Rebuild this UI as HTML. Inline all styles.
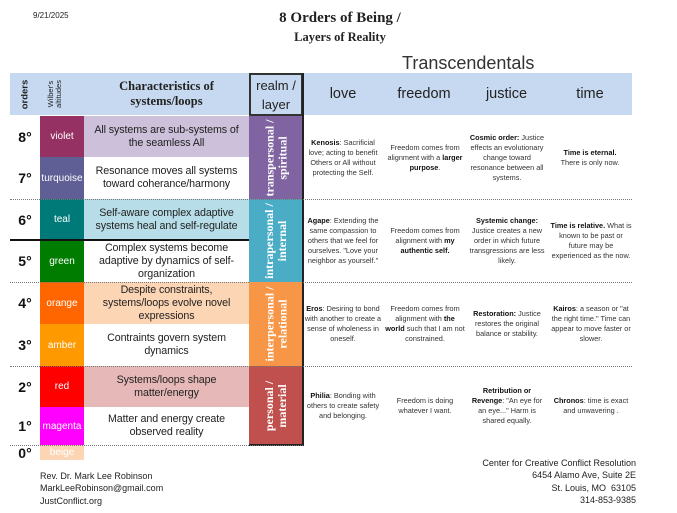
<!DOCTYPE html>
<html><head><meta charset="utf-8"><style>
*{margin:0;padding:0;box-sizing:border-box}
body{width:677px;height:513px;background:#fff;position:relative;overflow:hidden;font-family:"Liberation Sans",Arial,sans-serif;color:#222}
.a{position:absolute}
.c{display:flex;align-items:center;justify-content:center;text-align:center}
.deg{font-weight:bold;font-size:14px;color:#111;left:10px;width:30px}
.w{left:40px;width:44px;color:#fff;font-size:10px}
.ch{left:84px;width:165px;font-size:10.7px;line-height:13px;padding:0 3px;letter-spacing:-0.1px}
.rl{left:249px;width:54px;color:#fff;font-family:"Liberation Serif",serif;font-weight:bold;font-size:12px;line-height:13px}
.rl span{transform:rotate(-90deg);white-space:nowrap;display:block}
.t{font-size:7.3px;line-height:10px;color:#333}
.t b{color:#111}
.dot{left:10px;width:622px;height:0;border-top:1px dotted #777}
</style></head><body>
<div class="a" style="left:33px;top:11px;font-size:8px">9/21/2025</div>
<div class="a" style="left:200px;width:280px;top:10px;text-align:center;font-family:'Liberation Serif',serif;font-weight:bold;font-size:15px">8 Orders of Being /</div>
<div class="a" style="left:200px;width:280px;top:30px;text-align:center;font-family:'Liberation Serif',serif;font-weight:bold;font-size:12.5px">Layers of Reality</div>
<div class="a" style="left:402px;top:53px;font-size:18px;color:#333">Transcendentals</div>

<div class="a" style="left:10px;top:73px;width:622px;height:42px;background:#c6d9f0"></div>
<div class="a c" style="left:10px;top:73px;width:30px;height:42px"><span style="transform:rotate(-90deg);font-weight:bold;font-size:9.5px;display:block">orders</span></div>
<div class="a c" style="top:73px;width:22px;height:42px;left:44px"><span style="transform:rotate(-90deg);font-size:7.5px;line-height:8px;display:block;white-space:nowrap">Wilber's<br>altitudes</span></div>
<div class="a c" style="left:84px;top:73px;width:165px;height:42px;font-family:'Liberation Serif',serif;font-weight:bold;font-size:12.5px;line-height:15px">Characteristics of<br>systems/loops</div>
<div class="a c" style="left:249px;top:73px;width:54px;height:43px;border:2px solid #333;font-size:13px;line-height:19px">realm /<br>layer</div>
<div class="a c" style="left:303px;top:73px;width:80px;height:42px;font-size:14.5px">love</div>
<div class="a c" style="left:383px;top:73px;width:82px;height:42px;font-size:14.5px">freedom</div>
<div class="a c" style="left:465px;top:73px;width:83px;height:42px;font-size:14.5px">justice</div>
<div class="a c" style="left:548px;top:73px;width:84px;height:42px;font-size:14.5px">time</div>

<div class="a c deg" style="top:116px;height:41px">8°</div>
<div class="a c deg" style="top:157px;height:42px">7°</div>
<div class="a c deg" style="top:199px;height:41px">6°</div>
<div class="a c deg" style="top:240px;height:42px">5°</div>
<div class="a c deg" style="top:282px;height:42px">4°</div>
<div class="a c deg" style="top:324px;height:42px">3°</div>
<div class="a c deg" style="top:366px;height:41px">2°</div>
<div class="a c deg" style="top:407px;height:38px">1°</div>
<div class="a c deg" style="top:445px;height:15px">0°</div>

<div class="a c w" style="top:116px;height:41px;background:#953163">violet</div>
<div class="a c w" style="top:157px;height:42px;background:#5f5f96">turquoise</div>
<div class="a c w" style="top:199px;height:41px;background:#007a78">teal</div>
<div class="a c w" style="top:240px;height:42px;background:#007d00">green</div>
<div class="a c w" style="top:282px;height:42px;background:#ff6600">orange</div>
<div class="a c w" style="top:324px;height:42px;background:#ff9900">amber</div>
<div class="a c w" style="top:366px;height:41px;background:#ff0000">red</div>
<div class="a c w" style="top:407px;height:38px;background:#ff00ff">magenta</div>
<div class="a c w" style="top:445px;height:15px;background:#fcd5b4">beige</div>

<div class="a c ch" style="top:116px;height:41px;background:#ccc0da">All systems are sub-systems of the seamless All</div>
<div class="a c ch" style="top:157px;height:42px">Resonance moves all systems toward coherance/harmony</div>
<div class="a c ch" style="top:199px;height:41px;background:#b7dee8">Self-aware complex adaptive systems heal and self-regulate</div>
<div class="a c ch" style="top:240px;height:42px">Complex systems become adaptive by dynamics of self-organization</div>
<div class="a c ch" style="top:282px;height:42px;background:#fcd5b4">Despite constraints, systems/loops evolve novel expressions</div>
<div class="a c ch" style="top:324px;height:42px">Contraints govern system dynamics</div>
<div class="a c ch" style="top:366px;height:41px;background:#e6b9b8">Systems/loops shape matter/energy</div>
<div class="a c ch" style="top:407px;height:38px">Matter and energy create observed reality</div>

<div class="a c rl" style="top:116px;height:83px;background:#8064a2"><span>transpersonal /<br>spiritual</span></div>
<div class="a c rl" style="top:199px;height:83px;background:#4bacc6"><span>intrapersonal /<br>internal</span></div>
<div class="a c rl" style="top:282px;height:84px;background:#f79646"><span>interpersonal /<br>relational</span></div>
<div class="a c rl" style="top:366px;height:79px;background:#c0504d"><span>personal /<br>material</span></div>
<div class="a" style="left:302px;top:73px;width:2px;height:373px;background:#222"></div>
<div class="a" style="left:249px;top:444px;width:55px;height:1.5px;background:#222"></div>

<div class="a dot" style="top:199px"></div>
<div class="a" style="left:10px;top:239px;width:239px;height:2px;background:#111"></div>
<div class="a dot" style="top:282px;left:303px;width:329px"></div>
<div class="a dot" style="top:282px;width:239px"></div>
<div class="a dot" style="top:366px"></div>
<div class="a dot" style="top:445px;width:293px"></div>

<div class="a c t" style="left:303px;width:80px;top:116px;height:83px"><div><b>Kenosis</b>: Sacrificial love; acting to benefit Others or All without protecting the Self.</div></div>
<div class="a c t" style="left:385px;width:80px;top:116px;height:83px"><div>Freedom comes from alignment with a <b>larger purpose</b>.</div></div>
<div class="a c t" style="left:467px;width:80px;top:116px;height:83px"><div><b>Cosmic order:</b> Justice effects an evolutionary change toward resonance between all systems.</div></div>
<div class="a c t" style="left:548px;width:84px;top:116px;height:83px"><div><b>Time is eternal.</b><br>There is only now.</div></div>

<div class="a c t" style="left:303px;width:80px;top:199px;height:83px"><div><b>Agape</b>: Extending the same compassion to others that we feel for ourselves. "Love your neighbor as yourself."</div></div>
<div class="a c t" style="left:385px;width:80px;top:199px;height:83px"><div>Freedom comes from alignment with <b>my authentic self.</b></div></div>
<div class="a c t" style="left:467px;width:80px;top:199px;height:83px"><div><b>Systemic change:</b> Justice creates a new order in which future transgressions are less likely.</div></div>
<div class="a c t" style="left:550px;width:82px;top:199px;height:83px"><div><b>Time is relative.</b> What is known to be past or future may be experienced as the now.</div></div>

<div class="a c t" style="left:303px;width:80px;top:282px;height:84px"><div><b>Eros</b>: Desiring to bond with another to create a sense of wholeness in oneself.</div></div>
<div class="a c t" style="left:385px;width:80px;top:282px;height:84px"><div>Freedom comes from alignment with <b>the world</b> such that I am not constrained.</div></div>
<div class="a c t" style="left:467px;width:80px;top:282px;height:84px"><div><b>Restoration:</b> Justice restores the original balance or stability.</div></div>
<div class="a c t" style="left:550px;width:82px;top:282px;height:84px"><div><b>Kairos</b>: a season or "at the right time." Time can appear to move faster or slower.</div></div>

<div class="a c t" style="left:303px;width:80px;top:366px;height:79px"><div><b>Philia</b>: Bonding with others to create safety and belonging.</div></div>
<div class="a c t" style="left:385px;width:80px;top:366px;height:79px"><div>Freedom is doing whatever I want.</div></div>
<div class="a c t" style="left:467px;width:80px;top:366px;height:79px"><div><b>Retribution or Revenge</b>: "An eye for an eye..." Harm is shared equally.</div></div>
<div class="a c t" style="left:550px;width:82px;top:366px;height:79px"><div><b>Chronos</b>: time is exact and unwavering .</div></div>

<div class="a" style="left:40px;top:470px;font-size:9px;line-height:12.3px;color:#222">Rev. Dr. Mark Lee Robinson<br>MarkLeeRobinson@gmail.com<br>JustConflict.org</div>
<div class="a" style="left:440px;width:196px;top:457px;font-size:9px;line-height:12.3px;text-align:right;color:#222">Center for Creative Conflict Resolution<br>6454 Alamo Ave, Suite 2E<br>St. Louis, MO&nbsp; 63105<br>314-853-9385</div>
</body></html>
